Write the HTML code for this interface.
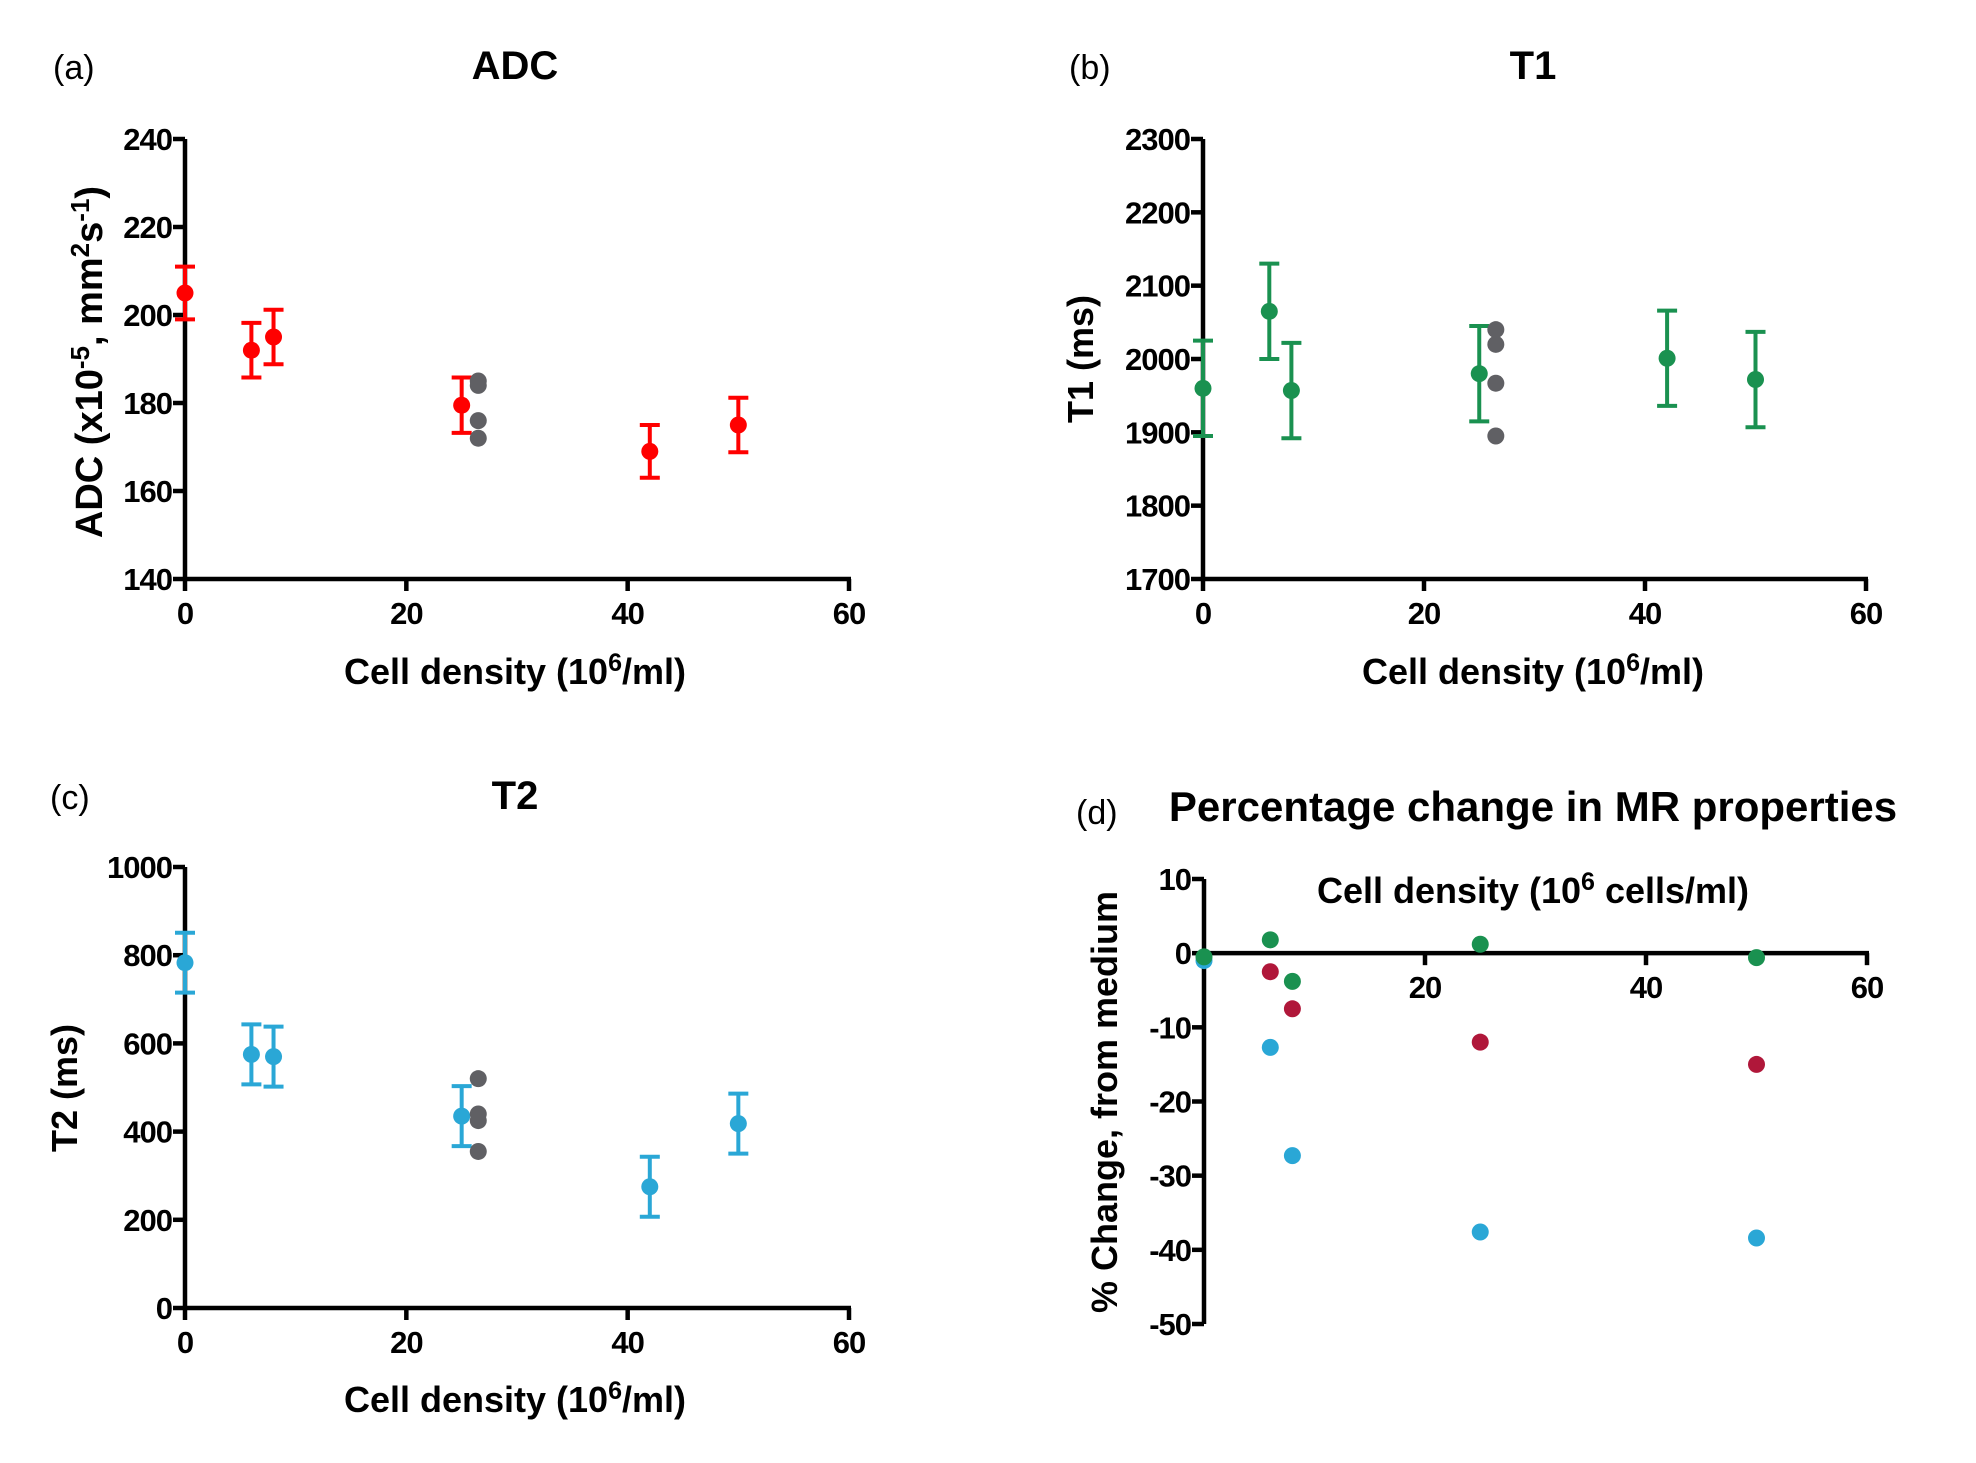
<!DOCTYPE html>
<html><head><meta charset="utf-8">
<style>
html,body{margin:0;padding:0;background:#fff;}
svg{display:block;}
text{font-family:"Liberation Sans Narrow","Liberation Sans",sans-serif;font-weight:bold;fill:#000;}
.lab{font-family:"Liberation Sans",sans-serif;font-weight:normal;}
</style></head>
<body>
<svg id="fig" width="1976" height="1463" viewBox="0 0 1976 1463" xmlns="http://www.w3.org/2000/svg"></svg>
<script>
// Panel (a) ADC
const xA = [0, 6, 8, 25, 42, 50];
const yA = [205, 192, 195, 179.5, 169, 175];
const eA = [6, 6.2, 6.2, 6.3, 6, 6.2];
const grayA = [185, 184, 176, 172];
// Panel (b) T1
const xB = [0, 6, 8, 25, 42, 50];
const yB = [1960, 2065, 1957, 1980, 2001, 1972];
const eB = [65, 65, 65, 65, 65, 65];
const grayB = [2040, 2020, 1967, 1895];
// Panel (c) T2
const xC = [0, 6, 8, 25, 42, 50];
const yC = [783, 575, 570, 435, 275, 418];
const eC = [68, 68, 68, 68, 68, 68];
const grayC = [520, 440, 425, 355];
const grayX = 26.5;
// Panel (d) percentage change
const xD = [0, 6, 8, 25, 50];
const greenD = [-0.5, 1.8, -3.8, 1.2, -0.6];
const redD = [null, -2.5, -7.5, -12, -15];
const blueD = [-1, -12.7, -27.3, -37.6, -38.4];
const xTicks = [0, 20, 40, 60];
const ticksA = [140, 160, 180, 200, 220, 240];
const ticksB = [1700, 1800, 1900, 2000, 2100, 2200, 2300];
const ticksC = [0, 200, 400, 600, 800, 1000];
const ticksD = [10, 0, -10, -20, -30, -40, -50];

const NS = "http://www.w3.org/2000/svg";
const svg = document.getElementById('fig');
function mk(tag, attrs, parent, txt) {
  const e = document.createElementNS(NS, tag);
  for (const k in attrs) e.setAttribute(k, attrs[k]);
  if (txt !== undefined) e.textContent = txt;
  (parent || svg).appendChild(e);
  return e;
}
function scale(d0, d1, r0, r1) { return v => r0 + (v - d0) * (r1 - r0) / (d1 - d0); }

function panel(cfg) {
  const g = mk('g', {});
  
  
  const X = scale(0, 60, cfg.x0, cfg.x1);
  const Y = scale(cfg.ymin, cfg.ymax, cfg.yb, cfg.yt);
  const axisY = cfg.xAxisAt !== undefined ? Y(cfg.xAxisAt) : cfg.yb;
  const ya = mk('line', {x1: cfg.x0, y1: cfg.yt, x2: cfg.x0, y2: cfg.yb, stroke: '#000', 'stroke-width': 4.5}, g);
  
  
  cfg.yticks.forEach(t => {
    mk('line', {x1: cfg.x0 - 12, y1: Y(t), x2: cfg.x0, y2: Y(t), stroke: '#000', 'stroke-width': 4.5}, g);
    const tl = mk('text', {x: cfg.x0 - 13, y: Y(t) + 11, 'font-size': 31, 'letter-spacing': -1, 'text-anchor': 'end'}, g, t);
    
    
  });
  const xa = mk('line', {x1: cfg.x0 - 2, y1: axisY, x2: cfg.x1 + 2, y2: axisY, stroke: '#000', 'stroke-width': 4.5}, g);
  
  
  xTicks.forEach(t => {
    mk('line', {x1: X(t), y1: axisY, x2: X(t), y2: axisY + 12, stroke: '#000', 'stroke-width': 4.5}, g);
    if (cfg.skipZeroX && t === 0) return;
    const tl = mk('text', {x: X(t), y: axisY + 45, 'font-size': 31, 'letter-spacing': -1, 'text-anchor': 'middle'}, g, t);
    
    
  });
  if (cfg.xs) {
    cfg.xs.forEach((xv, i) => {
      const cx = X(xv), lo = Y(cfg.ys[i] - cfg.es[i]), hi = Y(cfg.ys[i] + cfg.es[i]);
      const eg = mk('g', {}, g);
      
      
      mk('line', {x1: cx, y1: lo, x2: cx, y2: hi, stroke: cfg.color, 'stroke-width': 4}, eg);
      mk('line', {x1: cx - 10, y1: lo, x2: cx + 10, y2: lo, stroke: cfg.color, 'stroke-width': 4}, eg);
      mk('line', {x1: cx - 10, y1: hi, x2: cx + 10, y2: hi, stroke: cfg.color, 'stroke-width': 4}, eg);
      const p = mk('circle', {cx: cx, cy: Y(cfg.ys[i]), r: 8.5, fill: cfg.color}, g);
      
      
    });
    cfg.gray.forEach(v => {
      const p = mk('circle', {cx: X(grayX), cy: Y(v), r: 8.5, fill: '#606064'}, g);
      
      
    });
  }
  return {X, Y, g};
}

function label(x, y, txt, name, size, cls, anchor) {
  const t = mk('text', {x: x, y: y, 'font-size': size, 'text-anchor': anchor || 'middle', class: cls || ''});
  t.innerHTML = txt;
  
  
  return t;
}

panel({name: 'panel-a-adc', x0: 185, x1: 849, yt: 139, yb: 579, ymin: 140, ymax: 240, yticks: ticksA, xs: xA, ys: yA, es: eA, gray: grayA, color: '#ff0000'});
panel({name: 'panel-b-t1', x0: 1203, x1: 1866, yt: 139, yb: 579, ymin: 1700, ymax: 2300, yticks: ticksB, xs: xB, ys: yB, es: eB, gray: grayB, color: '#1a9150'});
panel({name: 'panel-c-t2', x0: 185, x1: 849, yt: 867, yb: 1308, ymin: 0, ymax: 1000, yticks: ticksC, xs: xC, ys: yC, es: eC, gray: grayC, color: '#2aa7d6'});
const pd = panel({name: 'panel-d-percent', x0: 1204, x1: 1867, yt: 879, yb: 1324, ymin: -50, ymax: 10, yticks: ticksD, xAxisAt: 0, skipZeroX: true});
[[blueD, '#2aa7d6', 'blue-point'], [redD, '#b0173a', 'red-point'], [greenD, '#1a9150', 'green-point']].forEach(s => {
  s[0].forEach((v, i) => {
    if (v === null) return;
    const p = mk('circle', {cx: pd.X(xD[i]), cy: pd.Y(v), r: 8.5, fill: s[1]}, pd.g);
    
    
  });
});

label(53, 79, '(a)', 'panel-label-a', 34, 'lab', 'start');
label(515, 79, 'ADC', 'title-a', 40);
label(515, 684, 'Cell density (10<tspan dy="-13" font-size="25">6</tspan><tspan dy="13">/ml)</tspan>', 'x-axis-title-a', 36);
label(0, 0, 'ADC (x10<tspan dy="-13" font-size="26">-5</tspan><tspan dy="13">, mm</tspan><tspan dy="-13" font-size="26">2</tspan><tspan dy="13">s</tspan><tspan dy="-13" font-size="26">-1</tspan><tspan dy="13">)</tspan>', 'y-axis-title-a', 38).setAttribute('transform', 'translate(102,362) rotate(-90)');

label(1069, 79, '(b)', 'panel-label-b', 34, 'lab', 'start');
label(1533, 79, 'T1', 'title-b', 40);
label(1533, 684, 'Cell density (10<tspan dy="-13" font-size="25">6</tspan><tspan dy="13">/ml)</tspan>', 'x-axis-title-b', 36);
label(0, 0, 'T1 (ms)', 'y-axis-title-b', 36).setAttribute('transform', 'translate(1093,359) rotate(-90)');

label(50, 809, '(c)', 'panel-label-c', 34, 'lab', 'start');
label(515, 809, 'T2', 'title-c', 40);
label(515, 1412, 'Cell density (10<tspan dy="-13" font-size="25">6</tspan><tspan dy="13">/ml)</tspan>', 'x-axis-title-c', 36);
label(0, 0, 'T2 (ms)', 'y-axis-title-c', 36).setAttribute('transform', 'translate(77,1088) rotate(-90)');

label(1076, 824, '(d)', 'panel-label-d', 34, 'lab', 'start');
label(1533, 821, 'Percentage change in MR properties', 'title-d', 42);
label(1533, 903, 'Cell density (10<tspan dy="-13" font-size="25">6</tspan><tspan dy="13"> cells/ml)</tspan>', 'x-axis-title-d', 36);
label(0, 0, '% Change, from medium', 'y-axis-title-d', 36).setAttribute('transform', 'translate(1117,1102) rotate(-90)');
</script>
</body></html>
